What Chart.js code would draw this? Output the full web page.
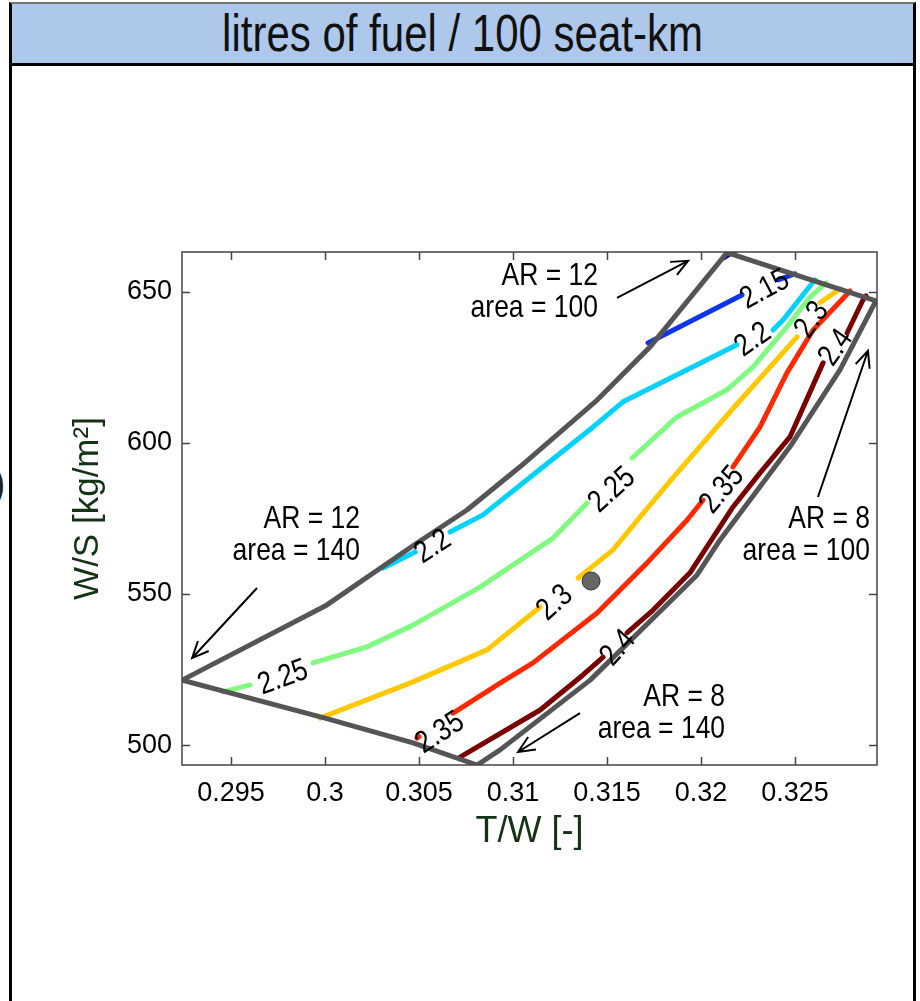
<!DOCTYPE html>
<html>
<head>
<meta charset="utf-8">
<script src="https://cdn.jsdelivr.net/npm/chart.js@4.4.1/dist/chart.umd.min.js"></script>
<style>
  html, body { margin: 0; padding: 0; background: #fff; }
  body { width: 920px; height: 1001px; position: relative; overflow: hidden;
         font-family: 'Liberation Sans', Arial, sans-serif; }
  #frame { position: absolute; left: 9px; top: 2px; width: 907px; height: 1010px; box-sizing: border-box;
           border-left: 3px solid #000; border-right: 3px solid #000; }
  #head { position: absolute; left: 9px; top: 2px; width: 907px; height: 64px; box-sizing: border-box;
          background: #aec8ec; border: 3px solid #000; border-top: 2px solid #777;
          text-align: center; font-size: 42px; line-height: 59px; color: #111; }
  #head span { display: inline-block; transform: scaleY(1.22); }
  #edge { position: absolute; left: -9px; top: 458px; font-size: 44px; color: #222; }
  #c { position: absolute; left: 0; top: 0; }
</style>
</head>
<body>
<div id="frame"></div>
<div id="head"><span>litres of fuel / 100 seat-km</span></div>
<div id="edge">)</div>
<canvas id="c" width="920" height="1001"></canvas>
<script>
const FONT = "'Liberation Sans', Arial, sans-serif";

const xTicks = [0.295, 0.3, 0.305, 0.31, 0.315, 0.32, 0.325];
const xTickLabels = ['0.295', '0.3', '0.305', '0.31', '0.315', '0.32', '0.325'];
const yTicks = [500, 550, 600, 650];
const yTickLabels = ['500', '550', '600', '650'];

// design space boundary (T/W, W/S)
const boundaryTW = [0.2924, 0.3000, 0.30489, 0.30755, 0.31037, 0.31447, 0.31729, 0.32138, 0.3293,
                    0.32739, 0.32473, 0.32101, 0.31979, 0.31410, 0.30931, 0.30809, 0.30468, 0.3000, 0.2924];
const boundaryWS = [521.5, 546.0, 566.9, 577.8, 592.1, 614.2, 631.8, 663.0, 647.0,
                    624.2, 598.7, 567.9, 556.3, 521.5, 498.4, 493.4, 500.7, 508.9, 521.5];

// contour lines, null = gap for the inline label
const c210TW = [0.32122, 0.32186];
const c210WS = [661.3, 663.9];
const c215TW = [0.31718, 0.32218, null, 0.32410, 0.32500];
const c215WS = [633.1, 649.0, null, 654.0, 656.0];
const c220TW = [0.30309, 0.30479, null, 0.30665, 0.30840, 0.31074, 0.31426, 0.31585, 0.31926, 0.32191, null, 0.32383, 0.32436, 0.32606];
const c220WS = [558.6, 563.9, null, 570.5, 576.2, 587.8, 605.3, 613.6, 624.2, 632.5, null, 637.4, 640.7, 654.0];
const c225TW = [0.29457, 0.29601, null, 0.29936, 0.30223, 0.30468, 0.30824, 0.31213, 0.31394, null, 0.31633, 0.31872, 0.32138, 0.32277, 0.32457, 0.32580, 0.32665];
const c225WS = [517.6, 519.9, null, 527.2, 532.5, 539.7, 552.3, 568.5, 580.1, null, 595.0, 608.6, 617.6, 625.2, 638.4, 648.3, 653.0];
const c230TW = [0.29973, 0.30468, 0.30862, 0.31144, null, 0.31346, 0.31532, 0.31676, 0.31851, 0.32170, 0.32511, null, 0.32633, 0.32739];
const c230WS = [508.9, 520.9, 531.5, 545.7, null, 555.3, 564.6, 575.5, 588.5, 611.4, 635.1, null, 646.4, 651.0];
const c235TW = [0.30489, 0.30500, null, 0.30681, 0.30931, 0.31106, 0.31447, 0.31713, 0.31926, 0.32011, null, 0.32170, 0.32314, 0.32457, 0.32596, 0.32793];
const c235WS = [502.3, 502.8, null, 510.6, 520.5, 527.2, 543.7, 560.3, 574.5, 581.1, null, 592.1, 605.3, 623.2, 637.4, 650.3];
const c240TW = [0.30718, 0.31144, 0.31372, 0.31479, null, 0.31606, 0.31745, 0.31941, 0.32170, 0.32314, 0.32473, 0.32649, null, 0.32777, 0.32862, 0.32878];
const c240WS = [496.0, 511.6, 523.2, 529.1, null, 537.1, 544.7, 557.0, 578.8, 590.1, 602.0, 626.5, null, 636.4, 647.4, 648.7];

// design point
const pointTW = [0.31415];
const pointWS = [554.3];

// contour labels
const labelText = ['2.15', '2.2', '2.25', '2.3', '2.35', '2.4', '2.2', '2.25', '2.3', '2.35', '2.4'];
const labelTW = [0.32340, 0.32277, 0.31527, 0.32590, 0.32112, 0.32718, 0.30574, 0.29777, 0.31223, 0.30612, 0.31559];
const labelWS = [650.7, 634.1, 584.4, 640.7, 584.4, 631.5, 565.6, 522.2, 547.0, 504.0, 532.1];
const labelAngle = [-28, -35, -42, -55, -50, -55, -33, -20, -42, -33, -48];

// corner annotations
const noteLines = [['AR = 12', 'area = 100'], ['AR = 12', 'area = 140'], ['AR = 8', 'area = 100'], ['AR = 8', 'area = 140']];
const noteTW = [0.31452, 0.30186, 0.32899, 0.32128];
const noteWS = [655.3, 574.8, 574.8, 515.9];
const arrowFromTW = [0.31553, 0.29638, 0.32622, 0.31356];
const arrowFromWS = [648.0, 552.0, 582.1, 510.6];
const arrowToTW = [0.31931, 0.29293, 0.32888, 0.31027];
const arrowToWS = [660.3, 528.8, 630.5, 497.7];

const pts = (xs, ys) => xs.map((x, i) => ({x: x, y: ys[i]}));

function line(xs, ys, color, order) {
  return {
    data: pts(xs, ys), showLine: true, pointRadius: 0, borderColor: color, borderWidth: 5,
    spanGaps: false, borderCapStyle: 'round', borderJoinStyle: 'round', fill: false, order: order
  };
}

// text a bit taller than wide, like the original export
function tallText(ctx, t, x, y, angle) {
  ctx.save();
  ctx.translate(x, y);
  ctx.rotate(angle * Math.PI / 180);
  ctx.scale(1, 1.2);
  ctx.fillText(t, 0, 0);
  ctx.restore();
}

const overlay = {
  id: 'overlay',
  afterDatasetsDraw(chart) {
    const ctx = chart.ctx;
    const xs = chart.scales.x, ys = chart.scales.y;
    const a = chart.chartArea;
    ctx.save();

    // contour labels
    ctx.fillStyle = '#000';
    ctx.font = '26px ' + FONT;
    ctx.textAlign = 'center';
    ctx.textBaseline = 'middle';
    labelText.forEach((t, i) => {
      tallText(ctx, t, xs.getPixelForValue(labelTW[i]), ys.getPixelForValue(labelWS[i]), labelAngle[i]);
    });

    // annotations
    ctx.font = '26.5px ' + FONT;
    ctx.textAlign = 'right';
    noteLines.forEach((lines, i) => {
      const px = xs.getPixelForValue(noteTW[i]), py = ys.getPixelForValue(noteWS[i]);
      lines.forEach((t, j) => tallText(ctx, t, px, py + j * 32, 0));
    });

    // arrows
    ctx.strokeStyle = '#000';
    ctx.lineWidth = 2;
    arrowFromTW.forEach((v, i) => {
      const x0 = xs.getPixelForValue(v), y0 = ys.getPixelForValue(arrowFromWS[i]);
      const x1 = xs.getPixelForValue(arrowToTW[i]), y1 = ys.getPixelForValue(arrowToWS[i]);
      const ang = Math.atan2(y1 - y0, x1 - x0);
      ctx.beginPath();
      ctx.moveTo(x0, y0);
      ctx.lineTo(x1, y1);
      ctx.moveTo(x1 - 18 * Math.cos(ang - 0.42), y1 - 18 * Math.sin(ang - 0.42));
      ctx.lineTo(x1, y1);
      ctx.lineTo(x1 - 18 * Math.cos(ang + 0.42), y1 - 18 * Math.sin(ang + 0.42));
      ctx.stroke();
    });

    // box with inward ticks
    ctx.strokeStyle = '#444';
    ctx.lineWidth = 1.5;
    ctx.strokeRect(a.left, a.top, a.right - a.left, a.bottom - a.top);
    ctx.beginPath();
    xTicks.forEach(v => {
      const px = Math.round(xs.getPixelForValue(v)) + 0.5;
      ctx.moveTo(px, a.bottom); ctx.lineTo(px, a.bottom - 8);
      ctx.moveTo(px, a.top); ctx.lineTo(px, a.top + 8);
    });
    yTicks.forEach(v => {
      const py = Math.round(ys.getPixelForValue(v)) + 0.5;
      ctx.moveTo(a.left, py); ctx.lineTo(a.left + 8, py);
      ctx.moveTo(a.right, py); ctx.lineTo(a.right - 8, py);
    });
    ctx.stroke();
    ctx.restore();
  }
};

new Chart(document.getElementById('c'), {
  type: 'scatter',
  data: {
    datasets: [
      {data: pts(pointTW, pointWS), pointRadius: 9, backgroundColor: '#666', borderColor: '#333', borderWidth: 1, showLine: false, order: 0},
      line(boundaryTW, boundaryWS, '#555', 1),
      line(c210TW, c210WS, '#0000a0', 2),
      line(c215TW, c215WS, '#0d35f0', 2),
      line(c220TW, c220WS, '#00d2ff', 2),
      line(c225TW, c225WS, '#80fa80', 2),
      line(c230TW, c230WS, '#ffc800', 2),
      line(c235TW, c235WS, '#ff2800', 2),
      line(c240TW, c240WS, '#7a0000', 2)
    ]
  },
  options: {
    responsive: false,
    animation: false,
    layout: {padding: {left: 55, right: 43, top: 252, bottom: 136}},
    plugins: {legend: {display: false}, tooltip: {enabled: false}},
    scales: {
      x: {
        type: 'linear', min: 0.29239, max: 0.32936,
        grid: {display: false, drawTicks: false}, border: {display: false},
        afterBuildTicks: s => { s.ticks = xTicks.map(v => ({value: v})); },
        afterFit: s => { s.height = 100; },
        ticks: {padding: 12, color: '#000', font: {family: FONT, size: 27}, maxRotation: 0, autoSkip: false,
                callback: (v, i) => xTickLabels[i]},
        title: {display: true, text: 'T/W [-]', color: '#143214', font: {family: FONT, size: 36}, padding: {top: 0, bottom: 11}}
      },
      y: {
        type: 'linear', min: 493.4, max: 663.2,
        grid: {display: false, drawTicks: false}, border: {display: false},
        afterBuildTicks: s => { s.ticks = yTicks.map(v => ({value: v})); },
        afterFit: s => { s.width = 127; },
        ticks: {padding: 10, color: '#000', font: {family: FONT, size: 27}, autoSkip: false,
                callback: (v, i) => yTickLabels[i]},
        title: {display: true, text: 'W/S [kg/m²]', color: '#143214', font: {family: FONT, size: 35}, padding: {top: 12, bottom: 0}}
      }
    }
  },
  plugins: [overlay]
});
</script>
</body>
</html>
